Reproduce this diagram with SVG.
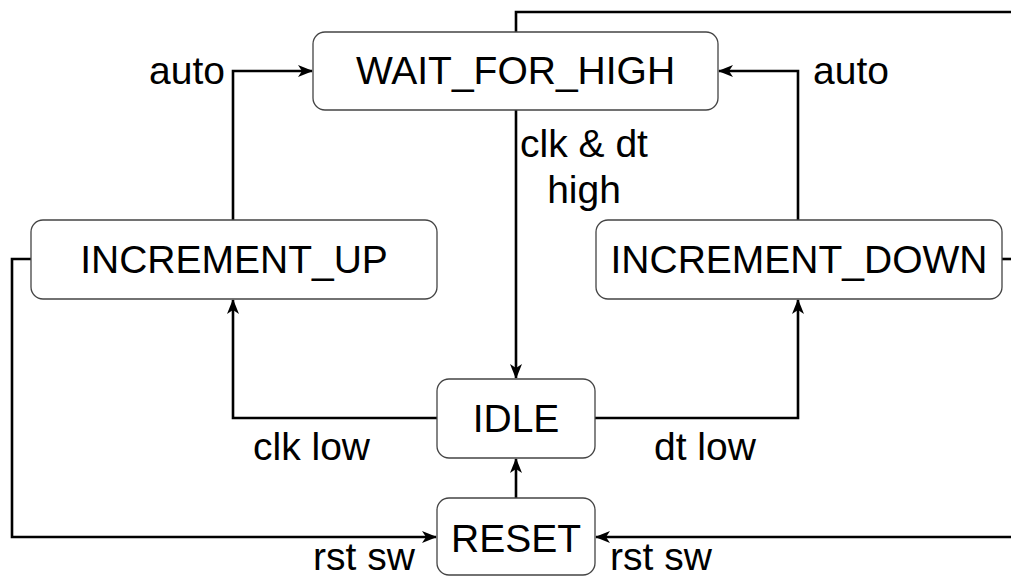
<svg xmlns="http://www.w3.org/2000/svg" width="1011" height="576" viewBox="0 0 1011 576">
  <style>
    .node rect { fill: #ffffff; stroke: #444444; stroke-width: 1.3; }
    .node text { font-family: "Liberation Sans", Arial, sans-serif; font-size: 39px; fill: #000000; text-anchor: middle; }
    .edge { fill: none; stroke: #000000; stroke-width: 2.6; }
    .label { font-family: "Liberation Sans", Arial, sans-serif; font-size: 39px; fill: #000000; }
  </style>
  <defs>
    <marker id="arrow" viewBox="0 0 15 12" refX="14" refY="6" markerWidth="15" markerHeight="12" markerUnits="userSpaceOnUse" orient="auto">
      <path d="M0,0 L15,6 L0,12 L4,6 Z" fill="#000000"/>
    </marker>
  </defs>
  <rect width="1011" height="576" fill="#ffffff"/>

  <!-- connectors -->
  <g id="connectors">
    <!-- WAIT_FOR_HIGH to IDLE -->
    <path class="edge" d="M516,110 L516,378" marker-end="url(#arrow)"/>
    <!-- WAIT_FOR_HIGH top to reset bus (off right edge) -->
    <path class="edge" d="M516,32 L516,12 L1015,12"/>
    <!-- INCREMENT_UP to WAIT_FOR_HIGH -->
    <path class="edge" d="M233,220 L233,71 L312,71" marker-end="url(#arrow)"/>
    <!-- INCREMENT_DOWN to WAIT_FOR_HIGH -->
    <path class="edge" d="M798,220 L798,71 L719,71" marker-end="url(#arrow)"/>
    <!-- IDLE to INCREMENT_UP -->
    <path class="edge" d="M437,418 L233,418 L233,300" marker-end="url(#arrow)"/>
    <!-- IDLE to INCREMENT_DOWN -->
    <path class="edge" d="M595,418 L798,418 L798,300" marker-end="url(#arrow)"/>
    <!-- RESET to IDLE -->
    <path class="edge" d="M516,498 L516,459" marker-end="url(#arrow)"/>
    <!-- INCREMENT_UP to RESET -->
    <path class="edge" d="M31,259 L12,259 L12,537 L436,537" marker-end="url(#arrow)"/>
    <!-- INCREMENT_DOWN side stub -->
    <path class="edge" d="M1002,259 L1015,259"/>
    <!-- right-hand return to RESET -->
    <path class="edge" d="M1015,537 L596,537" marker-end="url(#arrow)"/>
  </g>

  <!-- edge labels -->
  <g id="labels">
    <text class="label" x="149" y="84">auto</text>
    <text class="label" x="813" y="84">auto</text>
    <text class="label" x="584" y="157" text-anchor="middle">clk &amp; dt</text>
    <text class="label" x="584" y="203" text-anchor="middle">high</text>
    <text class="label" x="253" y="460">clk low</text>
    <text class="label" x="654" y="460">dt low</text>
    <text class="label" x="313" y="570">rst sw</text>
    <text class="label" x="610" y="570">rst sw</text>
  </g>

  <g id="node-wait-for-high" class="node">
    <rect x="313" y="32" width="405" height="78" rx="12" ry="12"/>
    <text x="515.5" y="84">WAIT_FOR_HIGH</text>
  </g>
  <g id="node-increment-up" class="node">
    <rect x="31" y="220" width="406" height="79" rx="12" ry="12"/>
    <text x="234" y="273">INCREMENT_UP</text>
  </g>
  <g id="node-increment-down" class="node">
    <rect x="596" y="220" width="406" height="79" rx="12" ry="12"/>
    <text x="799" y="273">INCREMENT_DOWN</text>
  </g>
  <g id="node-idle" class="node">
    <rect x="437" y="379" width="158" height="79" rx="12" ry="12"/>
    <text x="516" y="432">IDLE</text>
  </g>
  <g id="node-reset" class="node">
    <rect x="437" y="498" width="158" height="77" rx="12" ry="12"/>
    <text x="516" y="552">RESET</text>
  </g>
</svg>
